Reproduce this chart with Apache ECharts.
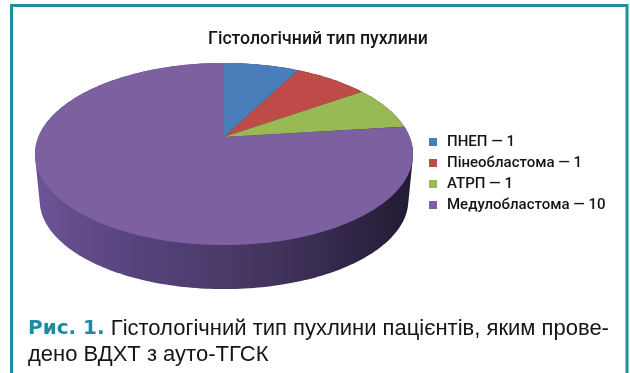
<!DOCTYPE html>
<html>
<head>
<meta charset="utf-8">
<style>html,body{margin:0;padding:0;background:#fff}#chart{width:630px;height:373px}</style>
<script src="https://cdn.jsdelivr.net/npm/echarts@6/dist/echarts.min.js"></script>
</head>
<body>
<div id="chart"></div>
<script>
const categories = ['ПНЕП', 'Пінеобластома', 'АТРП', 'Медулобластома'];
const patientCounts = [1, 1, 1, 10];
const sliceColors = ['#4a7ebb', '#be4b48', '#98b954', '#7d60a0'];
const chartTitle = 'Гістологічний тип пухлини';
const captionLead = 'Рис. 1.';
const captionLines = ['Гістологічний тип пухлини пацієнтів, яким прове-', 'дено ВДХТ з ауто-ТГСК'];

// Projection of the pie disc: a circle seen in perspective, so the far half is foreshortened.
const disc = { cx: 224, cy: 137, rx: 185.7, ry: 87.9, k: 0.187 };
const rim = { scale: 0.975, drop: 46.7 };
const total = patientCounts.reduce((a, b) => a + b, 0);

function project(theta, scale, drop) {
  const u = Math.sin(theta), v = Math.cos(theta), d = 1 + disc.k * v;
  return [disc.cx + scale * disc.rx * u / d, disc.cy + drop - scale * disc.ry * v / d];
}

function arcPoints(a0, a1, scale, drop) {
  const n = Math.max(2, Math.ceil((a1 - a0) / 0.02));
  const pts = [];
  for (let i = 0; i <= n; i++) pts.push(project(a0 + (a1 - a0) * i / n, scale, drop));
  return pts;
}

// Monotone-chain hull: the wall of a slice is the hull of its upper and lower rim arcs.
function convexHull(points) {
  const p = points.slice().sort((a, b) => a[0] - b[0] || a[1] - b[1]);
  const cross = (o, a, b) => (a[0] - o[0]) * (b[1] - o[1]) - (a[1] - o[1]) * (b[0] - o[0]);
  const half = list => {
    const out = [];
    for (const q of list) {
      while (out.length > 1 && cross(out[out.length - 2], out[out.length - 1], q) <= 0) out.pop();
      out.push(q);
    }
    out.pop();
    return out;
  };
  return half(p).concat(half(p.slice().reverse()));
}

const sideFill = {
  type: 'linear', global: true, x: 35, y: 0, x2: 413, y2: 0,
  colorStops: [
    { offset: 0, color: '#6d5497' }, { offset: 0.14, color: '#604a88' },
    { offset: 0.3, color: '#54427a' }, { offset: 0.5, color: '#4b3a68' },
    { offset: 0.7, color: '#3d3056' }, { offset: 0.85, color: '#2f2545' },
    { offset: 1, color: '#221a33' }
  ]
};

function sliceSeries(name, i) {
  const before = patientCounts.slice(0, i).reduce((a, b) => a + b, 0);
  return {
    type: 'custom',
    name: name + ' — ' + patientCounts[i],
    coordinateSystem: 'none',
    itemStyle: { color: sliceColors[i] },
    silent: true,
    animation: false,
    data: [[patientCounts[i]]],
    renderItem(params, api) {
      const a0 = before / total * Math.PI * 2;
      const a1 = a0 + api.value(0) / total * Math.PI * 2;
      const topArc = arcPoints(a0, a1, 1, 0);
      const lowArc = arcPoints(a0, a1, rim.scale, rim.drop);
      return {
        type: 'group',
        children: [
          { type: 'polygon', z2: 1, shape: { points: convexHull(topArc.concat(lowArc)) },
            style: { fill: sideFill } },
          { type: 'polygon', z2: 2, shape: { points: [[disc.cx, disc.cy]].concat(topArc) },
            style: { fill: sliceColors[i] } }
        ]
      };
    }
  };
}

const chart = echarts.init(document.getElementById('chart'), null, { renderer: 'canvas' });
chart.setOption({
  animation: false,
  backgroundColor: '#ffffff',
  title: [
    {
      text: chartTitle, left: 313, top: 26, textAlign: 'center',
      textStyle: { fontFamily: 'Roboto,sans-serif', fontSize: 17.7, fontWeight: 500, color: '#151515' }
    },
    {
      text: '{lead|' + captionLead + '} ' + captionLines[0] + '\n' + captionLines[1],
      left: 23, top: 311,
      textStyle: {
        fontFamily: '"Liberation Sans",sans-serif', fontSize: 22, fontWeight: 'normal', color: '#151515', lineHeight: 26,
        rich: {
          lead: { fontFamily: '"DejaVu Sans",sans-serif', fontSize: 20, fontWeight: 'bold', color: '#1d8aa3', lineHeight: 26 }
        }
      }
    }
  ],
  legend: {
    orient: 'vertical', left: 424, top: 129,
    icon: 'rect', itemWidth: 8, itemHeight: 8, itemGap: 5,
    data: categories.map((c, i) => c + ' — ' + patientCounts[i]),
    selectedMode: false,
    textStyle: { fontFamily: 'Roboto,sans-serif', fontSize: 15, fontWeight: 500, color: '#151515', padding: [0, 0, 0, 5], lineHeight: 16 }
  },
  graphic: [
    {
      type: 'rect', silent: true,
      shape: { x: 11.5, y: 5.5, width: 615.5, height: 400 },
      style: { fill: 'none', stroke: '#1f8f9c', lineWidth: 3 }
    }
  ],
  series: categories.map(sliceSeries)
});
</script>
</body>
</html>
